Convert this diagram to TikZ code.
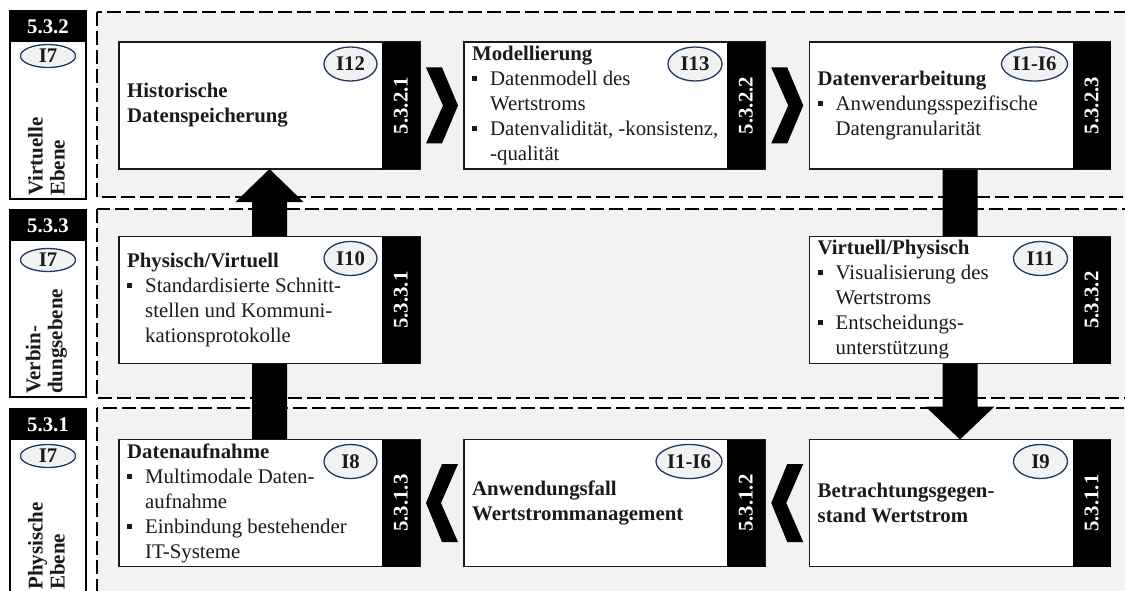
\documentclass[tikz,border=0pt]{standalone}
\usepackage{fontspec}
\setmainfont{Liberation Serif}
\usetikzlibrary{calc,shapes.geometric}
\definecolor{panel}{HTML}{F2F2F2}
\definecolor{navy}{HTML}{1F3864}
\definecolor{ink}{HTML}{1A1A1A}
\pgfdeclarelayer{frames}
\pgfdeclarelayer{arrows}
\pgfsetlayers{frames,arrows,main}
\newcommand\txtsize{\fontsize{20.8}{25}\selectfont}
\newcommand\sqbullet{\makebox[18pt][l]{\raisebox{4.5pt}{\rule{5pt}{5pt}}}}
\newcommand\sqindent{\hspace*{18pt}}

\tikzset{
  frame/.style={draw=black, line width=1.3pt, dash pattern=on 14pt off 5pt, fill=panel},
  box/.style={draw=ink, line width=1.3pt, fill=white, minimum width=301pt, minimum height=127pt, inner sep=0pt, outer sep=0pt},
  strip/.style={fill=black, minimum width=38pt, minimum height=127pt, inner sep=0pt, outer sep=0pt, anchor=north east},
  striplabel/.style={text=white, rotate=90, inner sep=0pt, font=\txtsize\bfseries},
  tag/.style={ellipse, draw=navy, line width=1.3pt, fill=panel, minimum height=34pt, inner sep=0pt, font=\txtsize\bfseries, text=ink},
  body/.style={anchor=west, align=left, inner sep=0pt, font=\txtsize, text=ink},
  colhead/.style={fill=black, text=white, font=\txtsize\bfseries, minimum width=76pt, minimum height=31pt, inner sep=0pt, outer sep=0pt, anchor=north west},
  colbody/.style={draw=black, line width=1.3pt, fill=white, minimum width=76pt, inner sep=0pt, outer sep=0pt, anchor=north west},
  coltag/.style={ellipse, draw=navy, line width=1.3pt, fill=panel, minimum width=55pt, minimum height=23pt, inner sep=0pt, font=\txtsize\bfseries, text=ink},
  coltext/.style={rotate=90, anchor=west, align=left, inner sep=0pt, font=\fontsize{21}{22}\selectfont\bfseries, text=ink},
  blockarrow/.style={fill=black},
}

% level column on the left: name, top, bottom, number, tag centre y, label
\newcommand\levelcol[6]{%
  \node[colbody, minimum height={#3-#2}] (#1) at (10,#2) {};
  \node[colhead] (#1h) at (10,#2) {#4};
  \node[coltag] (#1t) at (48,#5) {I7};
  \node[coltext] (#1l) at (46.5,{#3-3}) {#6};
}

% process box: name, centre x, centre y, section, tag, tag width, body
\newcommand\procbox[7]{%
  \node[box] (#1) at (#2,#3) {};
  \node[strip] (#1s) at (#1.north east) {};
  \node[striplabel] (#1n) at (#1s.center) {#4};
  \node[tag, minimum width=#6pt] (#1t) at ($(#1.north east)+({-43-#6/2},22)$) {#5};
  \node[body] (#1b) at ($(#1.west)+(8,0)$) {#7};
}

% chevrons between neighbouring boxes
\newcommand\chevright[1]{%
  \fill ($(#1)+(-16,-38)$) -- ($(#1)+(0,-38)$) -- ($(#1)+(16,0)$) --
        ($(#1)+(0,38)$) -- ($(#1)+(-16,38)$) -- ($(#1)+(1,0)$) -- cycle;}
\newcommand\chevleft[1]{%
  \fill ($(#1)+(16,-39)$) -- ($(#1)+(0,-39)$) -- ($(#1)+(-16,0)$) --
        ($(#1)+(0,39)$) -- ($(#1)+(16,39)$) -- ($(#1)+(-1,0)$) -- cycle;}

\begin{document}
\begin{tikzpicture}[x=1pt,y=-1pt]
\useasboundingbox (0,0) rectangle (1125,591);

\begin{pgfonlayer}{frames}
  \fill[white] (0,0) rectangle (1125,591);
  \draw[frame] (97,12) rectangle (1140,197);
  \draw[frame] (97,209) rectangle (1140,398);
  \draw[frame] (97,408) rectangle (1140,610);
\end{pgfonlayer}

% level columns
\levelcol{lv}{11}{199}{5.3.2}{56}{Virtuelle\\Ebene}
\levelcol{lc}{210}{397}{5.3.3}{260}{Verbin-\\dungsebene}
\levelcol{lp}{409}{593}{5.3.1}{456}{Physische\\Ebene}

% virtual level
\procbox{A}{269.5}{105.5}{5.3.2.1}{I12}{53}{%
  \textbf{Historische}\\\textbf{Datenspeicherung}}
\procbox{B}{614.5}{105.5}{5.3.2.2}{I13}{54}{%
  \textbf{Modellierung}\\
  \sqbullet Datenmodell des\\
  \sqindent Wertstroms\\
  \sqbullet Datenvalidität, -konsistenz,\\
  \sqindent -qualität}
\procbox{C}{960}{105.5}{5.3.2.3}{I1-I6}{66}{%
  \textbf{Datenverarbeitung}\\
  \sqbullet Anwendungsspezifische\\
  \sqindent Datengranularität}

% connection level
\procbox{D}{269.5}{300}{5.3.3.1}{I10}{53}{%
  \textbf{Physisch/Virtuell}\\
  \sqbullet Standardisierte Schnitt-\\
  \sqindent stellen und Kommuni-\\
  \sqindent kationsprotokolle}
\procbox{E}{960}{300}{5.3.3.2}{I11}{54}{%
  \textbf{Virtuell/Physisch}\\
  \sqbullet Visualisierung des\\
  \sqindent Wertstroms\\
  \sqbullet Entscheidungs-\\
  \sqindent unterstützung}

% physical level
\procbox{F}{269.5}{503}{5.3.1.3}{I8}{53}{%
  \textbf{Datenaufnahme}\\
  \sqbullet Multimodale Daten-\\
  \sqindent aufnahme\\
  \sqbullet Einbindung bestehender\\
  \sqindent IT-Systeme}
\procbox{G}{614.5}{503}{5.3.1.2}{I1-I6}{66}{%
  \textbf{Anwendungsfall}\\\textbf{Wertstrommanagement}}
\procbox{H}{960}{503}{5.3.1.1}{I9}{54}{%
  \textbf{Betrachtungsgegen-}\\\textbf{stand Wertstrom}}

% chevrons
\coordinate (ab) at ($(A.east)!.5!(B.west)$);
\coordinate (bc) at ($(B.east)!.5!(C.west)$);
\coordinate (fg) at ($(F.east)!.5!(G.west)$);
\coordinate (gh) at ($(G.east)!.5!(H.west)$);
\chevright{ab}
\chevright{bc}
\chevleft{fg}
\chevleft{gh}

% block arrows between the levels
\begin{pgfonlayer}{arrows}
  \fill[blockarrow] ($(F.north)+(-17.5,0)$) -- ($(A.south)+(-17.5,33)$) --
    ($(A.south)+(-34,33)$) -- (A.south) -- ($(A.south)+(34,33)$) --
    ($(A.south)+(17.5,33)$) -- ($(F.north)+(17.5,0)$) -- cycle;
  \fill[blockarrow] ($(C.south)+(-17.5,0)$) -- ($(H.north)+(-17.5,-33)$) --
    ($(H.north)+(-34.5,-33)$) -- (H.north) -- ($(H.north)+(34.5,-33)$) --
    ($(H.north)+(17.5,-33)$) -- ($(C.south)+(17.5,0)$) -- cycle;
\end{pgfonlayer}
\end{tikzpicture}
\end{document}
